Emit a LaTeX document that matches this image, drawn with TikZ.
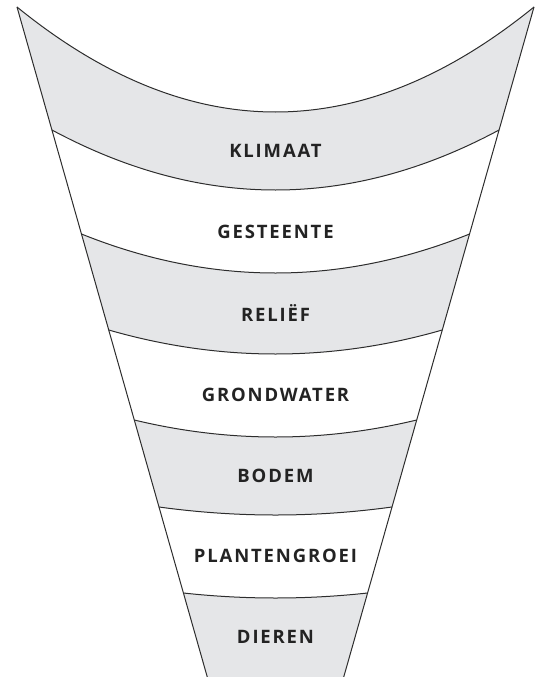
\documentclass[tikz,border=0pt]{standalone}
\usepackage{fontspec}
\setmainfont{Open Sans}[LetterSpace=10]
\usepackage{tikz}
\usetikzlibrary{calc}
\definecolor{bandgray}{RGB}{229,230,232}
\definecolor{edgegray}{RGB}{45,45,45}
\definecolor{textgray}{RGB}{35,35,35}
\tikzset{
  layer/.style={font=\fontsize{18.5}{20}\selectfont\bfseries, text=textgray, inner sep=0pt},
  band/.style={fill=bandgray},
  edge/.style={draw=edgegray, line width=1pt, line join=round}
}

\begin{document}
\begin{tikzpicture}[x=1pt, y=-1pt]

\useasboundingbox (0,0) rectangle (542,677);

% boundaries: index / y at the sides / y in the middle
\foreach \i/\ye/\yc in {0/7/112, 1/130/190, 2/234/273, 3/330/354,
                        4/420/437, 5/507/515, 6/593/598, 7/677/677}{
  \pgfmathsetmacro\xl{17+0.284*(\ye-7)}
  \pgfmathsetmacro\xr{534-0.284*(\ye-7)}
  \pgfmathsetmacro\yk{\ye+4/3*(\yc-\ye)}
  \coordinate (l\i) at (\xl,\ye);
  \coordinate (r\i) at (\xr,\ye);
  \coordinate (a\i) at ({\xl+2/3*(275.5-\xl)},\yk);
  \coordinate (b\i) at ({\xr-2/3*(\xr-275.5)},\yk);
}

% gray bands
\foreach \i/\j in {0/1, 2/3, 4/5, 6/7}{
  \fill[band] (l\i) .. controls (a\i) and (b\i) .. (r\i) -- (r\j)
    .. controls (b\j) and (a\j) .. (l\j) -- cycle;
}

% outline
\draw[edge] (l0) -- (l7);
\draw[edge] (r0) -- (r7);
\foreach \i in {0,...,6}{
  \draw[edge] (l\i) .. controls (a\i) and (b\i) .. (r\i);
}

% labels
\node[layer] (klimaat)    at (275.5,151) {KLIMAAT};
\node[layer] (gesteente)  at (275.5,232) {GESTEENTE};
\node[layer] (relief)     at (275.5,313) {RELIËF};
\node[layer] (grondwater) at (275.5,395) {GRONDWATER};
\node[layer] (bodem)      at (275.5,476) {BODEM};
\node[layer] (planten)    at (275.5,556) {PLANTENGROEI};
\node[layer] (dieren)     at (275.5,637) {DIEREN};

\end{tikzpicture}
\end{document}
